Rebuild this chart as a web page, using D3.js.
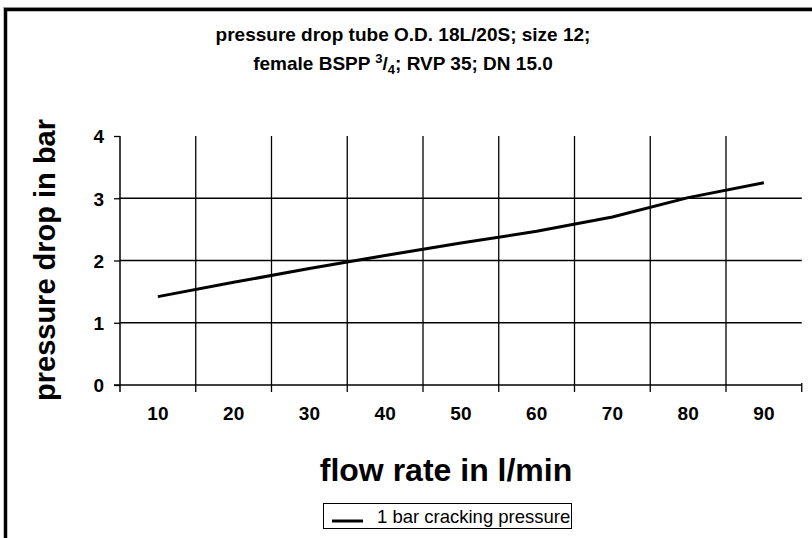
<!DOCTYPE html>
<meta charset="utf-8">
<script src="https://d3js.org/d3.v7.min.js"></script>

<style>
body { margin: 0; background: white; }
text { font-family: "Liberation Sans", Arial, Helvetica, sans-serif; fill: black; }
</style>

<svg class="chart" width="812" height="538"></svg>

<script>

// values
var flow = [10, 20, 30, 40, 50, 60, 70, 80, 90];
var drop = [1.42, 1.65, 1.87, 2.08, 2.28, 2.47, 2.70, 3.01, 3.25];
var yTicks = [0, 1, 2, 3, 4];
var seriesName = "1 bar cracking pressure";

var svg = d3.select(".chart");

var x = d3.scaleBand().domain(flow).range([120, 801.75]).padding(0);
var y = d3.scaleLinear().domain([0, 4]).range([385, 136]);
var bw = x.bandwidth();

// outer frame, only top and left edges are in view
svg.append("line").attr("x1", 3).attr("x2", 812).attr("y1", 7.5).attr("y2", 7.5)
    .attr("stroke", "#bbb").attr("stroke-width", 1);
svg.append("path").attr("d", "M5.5,538 V9.5 H812")
    .attr("fill", "none").attr("stroke", "black").attr("stroke-width", 3.5);

// horizontal gridlines
svg.append("g").selectAll("line")
    .data(yTicks.filter(function(d) { return d > 0 && d < 4; }))
    .enter().append("line")
    .attr("x1", 120).attr("x2", 801.75)
    .attr("y1", function(d) { return y(d); })
    .attr("y2", function(d) { return y(d); })
    .attr("stroke", "black").attr("stroke-width", 1.3);

// vertical gridlines between the categories, plus the end tick
svg.append("g").selectAll("line")
    .data(flow)
    .enter().append("line")
    .attr("x1", function(d) { return x(d) + bw; })
    .attr("x2", function(d) { return x(d) + bw; })
    .attr("y1", function(d, i) { return i == flow.length - 1 ? y(0) - 2 : y(4); })
    .attr("y2", y(0) + 7)
    .attr("stroke", "black").attr("stroke-width", 1.3);

// y axis
var yAxis = svg.append("g").attr("transform", "translate(120,0)")
    .call(d3.axisLeft(y).tickValues(yTicks).tickFormat(d3.format("d")).tickSize(6).tickPadding(10));
yAxis.select(".domain").remove();
yAxis.selectAll(".tick line").attr("stroke", "black").attr("stroke-width", 1.3);
yAxis.selectAll("text").attr("font-size", "19px").attr("font-weight", "bold").attr("dy", "0.36em");
svg.append("line").attr("x1", 120).attr("x2", 120).attr("y1", y(4)).attr("y2", y(0) + 7)
    .attr("stroke", "black").attr("stroke-width", 1.5);

// x axis
var xAxis = svg.append("g").attr("transform", "translate(0," + y(0) + ")")
    .call(d3.axisBottom(x).tickSize(0).tickPadding(22));
xAxis.select(".domain").remove();
xAxis.selectAll("text").attr("font-size", "19px").attr("font-weight", "bold");
svg.append("line").attr("x1", 114).attr("x2", 801.75).attr("y1", y(0)).attr("y2", y(0))
    .attr("stroke", "black").attr("stroke-width", 1.5);

// the curve
var line = d3.line()
    .x(function(d, i) { return x(flow[i]) + bw / 2; })
    .y(function(d) { return y(d); });

svg.append("path").datum(drop)
    .attr("d", line)
    .attr("fill", "none").attr("stroke", "black").attr("stroke-width", 3)
    .attr("stroke-linejoin", "round");

// title
var title = svg.append("text").attr("text-anchor", "middle").attr("font-weight", "bold").attr("font-size", "19px");
title.append("tspan").attr("x", 403).attr("y", 41).text("pressure drop tube O.D. 18L/20S; size 12;");
var t2 = title.append("tspan").attr("x", 403).attr("y", 70);
t2.append("tspan").text("female BSPP ");
t2.append("tspan").attr("font-size", "13px").attr("dy", -7).text("3");
t2.append("tspan").attr("dy", 7).text("/");
t2.append("tspan").attr("font-size", "13px").attr("dy", 4).text("4");
t2.append("tspan").attr("dy", -4).text("; RVP 35; DN 15.0");

// axis titles
svg.append("text").attr("x", 446).attr("y", 481)
    .attr("text-anchor", "middle").attr("font-weight", "bold").attr("font-size", "32px")
    .text("flow rate in l/min");

svg.append("text").attr("transform", "translate(55,260) rotate(-90)")
    .attr("text-anchor", "middle").attr("font-weight", "bold").attr("font-size", "29px")
    .text("pressure drop in bar");

// legend
var legend = svg.append("g");
legend.append("rect").attr("x", 323.5).attr("y", 503.5).attr("width", 248).attr("height", 25)
    .attr("fill", "white").attr("stroke", "black").attr("stroke-width", 1);
legend.append("line").attr("x1", 332).attr("x2", 363).attr("y1", 521).attr("y2", 521)
    .attr("stroke", "black").attr("stroke-width", 3);
legend.append("text").attr("x", 377).attr("y", 523).attr("font-size", "18.5px")
    .text(seriesName);

</script>
